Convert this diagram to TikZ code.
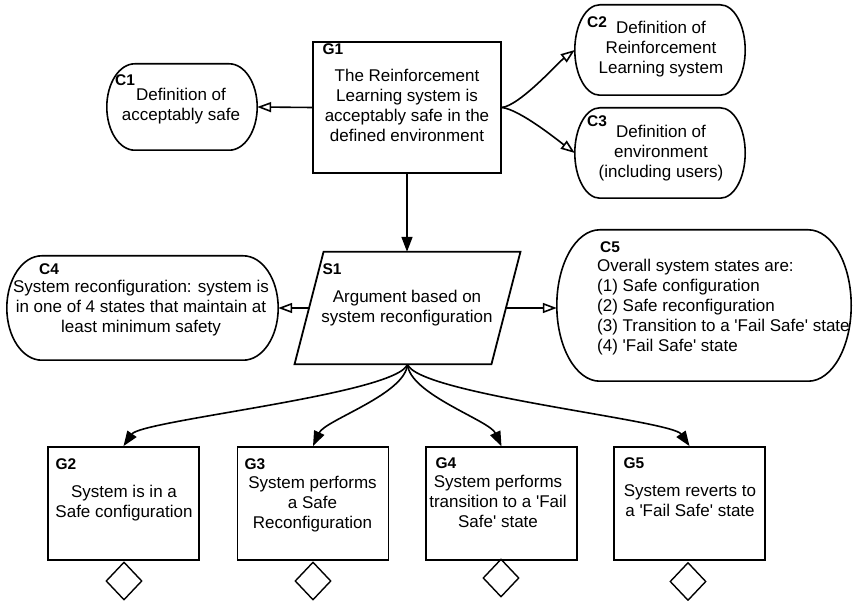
\documentclass[tikz,border=0pt]{standalone}
\usepackage{fontspec}
\newfontfamily\lfont{Liberation Sans}
\usetikzlibrary{arrows.meta,shapes.geometric,calc}
\newcommand\ctxpath[2]{%
  \draw[ctxline] let \p1=(#1.north west), \p2=(#1.south east), \n1={(\y1-\y2)/2} in
    (\x1+#2,\y1) -- (\x2-#2,\y1)
    arc[start angle=90,end angle=-90,x radius=#2,y radius=\n1]
    -- (\x1+#2,\y2)
    arc[start angle=270,end angle=90,x radius=#2,y radius=\n1]
    -- cycle;}
\begin{document}
\begin{tikzpicture}[x=1pt,y=-1pt, font=\lfont,
  goalbox/.style={draw, line width=1.8pt, minimum width=151pt, minimum height=113pt, inner sep=0pt},
  ctxnode/.style={inner sep=0pt},
  ctxline/.style={line width=1.6pt},
  txt/.style={font=\lfont\fontsize{17}{20}\selectfont, align=center, inner sep=0pt, anchor=north},
  lbl/.style={font=\lfont\bfseries\fontsize{15.5}{18}\selectfont, inner sep=0pt},
  solidarrow/.style={line width=1.6pt, -{Triangle[length=15pt,width=11pt]}},
  openarrow/.style={line width=1.6pt, -{Triangle[open,length=14pt,width=10pt]}},
  undev/.style={draw, diamond, line width=1.4pt, minimum width=36pt, minimum height=38pt, inner sep=0pt},
]
\useasboundingbox (0,0) rectangle (854,601);

% G1
\node[goalbox, minimum width=188pt, minimum height=131pt] (G1) at (407,107.5) {};
\node[lbl] (G1id) at (333,49) {G1};
\node[txt] (G1t) at (407,69.2) {The Reinforcement\\Learning system is\\acceptably safe in the\\defined environment};

% C1
\node[ctxnode, minimum width=150pt, minimum height=86pt] (C1) at (182,107) {};
\ctxpath{C1}{28pt}
\node[lbl] (C1id) at (125,80) {C1};
\node[txt] (C1t) at (181,87.5) {Definition of\\acceptably safe};

% C2
\node[ctxnode, minimum width=170pt, minimum height=90pt] (C2) at (660,50) {};
\ctxpath{C2}{25pt}
\node[lbl] (C2id) at (597,22) {C2};
\node[txt] (C2t) at (661,20.5) {Definition of\\Reinforcement\\Learning system};

% C3
\node[ctxnode, minimum width=170pt, minimum height=90pt] (C3) at (660,153) {};
\ctxpath{C3}{25pt}
\node[lbl] (C3id) at (597,121) {C3};
\node[txt] (C3t) at (661,124.5) {Definition of\\environment\\(including users)};

% S1 (parallelogram drawn around its body rectangle)
\node[inner sep=0pt, minimum width=196.5pt, minimum height=112pt] (S1) at (407.5,308) {};
\draw[line width=1.8pt] ($(S1.north west)+(14.5,0)$) -- ($(S1.north east)+(14.5,0)$)
  -- ($(S1.south east)+(-14.5,0)$) -- ($(S1.south west)+(-14.5,0)$) -- cycle;
\node[lbl] (S1id) at (332,269) {S1};
\node[txt] (S1t) at (407,289.5) {Argument based on\\system reconfiguration};

% C4
\node[ctxnode, minimum width=271pt, minimum height=104pt] (C4) at (142.5,308) {};
\ctxpath{C4}{35pt}
\node[lbl] (C4id) at (49,269) {C4};
\node[txt] (C4t) at (141,279.5) {System reconfiguration: system is\\in one of 4 states that maintain at\\least minimum safety};

% C5
\node[ctxnode, minimum width=294pt, minimum height=151pt] (C5) at (704,305.5) {};
\ctxpath{C5}{43pt}
\node[lbl] (C5id) at (610,247) {C5};
\node[txt, align=left, anchor=north west] (C5t) at (597,258.5) {Overall system states are:\\(1) Safe configuration\\(2) Safe reconfiguration\\(3) Transition to a 'Fail Safe' state\\(4) 'Fail Safe' state};

% G2-G5
\node[goalbox] (G2) at (123.5,503.5) {};
\node[goalbox] (G3) at (313,503.5) {};
\node[goalbox, line width=1.2pt] (G4) at (501.5,503.5) {};
\node[goalbox] (G5) at (689.5,503.5) {};
\node[lbl] (G2id) at (66,464) {G2};
\node[lbl] (G3id) at (255,464) {G3};
\node[lbl] (G4id) at (446,463) {G4};
\node[lbl] (G5id) at (634,463) {G5};
\node[txt] (G2t) at (124,484.5) {System is in a\\Safe configuration};
\node[txt] (G3t) at (312.5,475.5) {System performs\\a Safe\\Reconfiguration};
\node[txt] (G4t) at (498,474.5) {System performs\\transition to a 'Fail\\Safe' state};
\node[txt] (G5t) at (690,484.5) {System reverts to\\a 'Fail Safe' state};

% undeveloped diamonds
\node[undev] (D2) at (124,581) {};
\node[undev] (D3) at (313,581) {};
\node[undev] (D4) at (501,578) {};
\node[undev] (D5) at (688,581.5) {};

% connectors
\draw[openarrow] (G1.west) -- (C1.east);
\draw[openarrow] (G1.east) .. controls +(18,-2) and +(-16,12) .. (C2.west);
\draw[openarrow] (G1.east) .. controls +(18,2) and +(-16,-12) .. (C3.west);
\draw[solidarrow] (G1.south) -- (G1.south |- S1.north);
\draw[openarrow] (S1.west) -- (C4.east);
\draw[openarrow] (S1.east) -- (S1.east -| C5.west);
\draw[solidarrow] (S1.south) .. controls +(-10,30) and +(18,-26) .. (G2.north);
\draw[solidarrow] (S1.south) .. controls +(-2,30) and +(12,-26) .. (G3.north);
\draw[solidarrow] (S1.south) .. controls +(2,30) and +(-12,-26) .. (G4.north);
\draw[solidarrow] (S1.south) .. controls +(10,30) and +(-18,-26) .. (G5.north);
\end{tikzpicture}
\end{document}
